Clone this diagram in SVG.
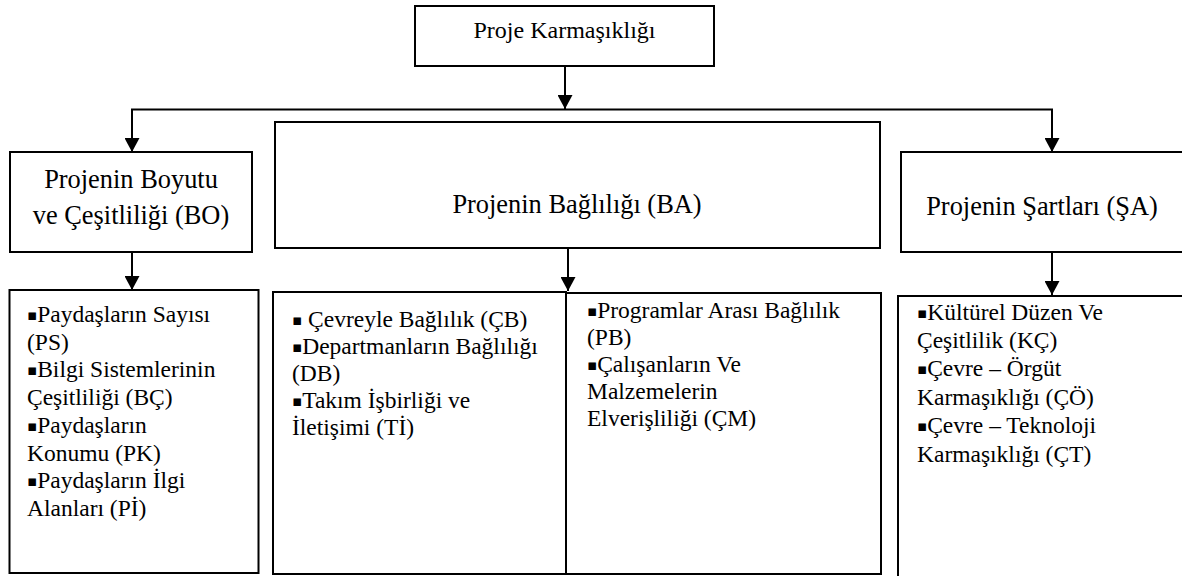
<svg xmlns="http://www.w3.org/2000/svg" width="1182" height="576" viewBox="0 0 1182 576">
<style>
.box{fill:#fff;stroke:#000;stroke-width:2}
.t{font-family:"Liberation Serif","Times New Roman",serif;fill:#000}
.title{font-size:26.4px;text-anchor:middle}
.top{font-size:24px;text-anchor:middle}
.body{font-size:23.5px}
.b{font-family:"DejaVu Sans",sans-serif;font-size:15px;baseline-shift:2.5px}
.conn{fill:none;stroke:#000;stroke-width:2}
</style>
<defs>
<marker id="ah" markerUnits="userSpaceOnUse" markerWidth="15" markerHeight="15" refX="14" refY="7.5" orient="auto">
<path d="M0,0 L14,7.5 L0,15 z" fill="#000"/>
</marker>
</defs>
<g id="connectors">
<path class="conn" d="M565,66 V109" marker-end="url(#ah)"/>
<path class="conn" d="M565,109.5 H132 V152" marker-end="url(#ah)"/>
<path class="conn" d="M565,109.5 H1052 V152" marker-end="url(#ah)"/>
<path class="conn" d="M132,252 V290" marker-end="url(#ah)"/>
<path class="conn" d="M568,248 V291" marker-end="url(#ah)"/>
<path class="conn" d="M1052,252 V295" marker-end="url(#ah)"/>
</g>
<g id="root">
<rect class="box" x="415" y="6" width="299" height="60"/>
<text class="t top" x="564.5" y="38">Proje Karmaşıklığı</text>
</g>
<g id="BO">
<rect class="box" x="10" y="152" width="242" height="100"/>
<text class="t title" x="131" y="188">Projenin Boyutu</text>
<text class="t title" x="131" y="224">ve Çeşitliliği (BO)</text>
</g>
<g id="BA">
<rect class="box" x="275" y="122" width="605" height="126"/>
<text class="t title" x="577" y="213">Projenin Bağlılığı (BA)</text>
</g>
<g id="SA">
<rect class="box" x="901" y="152" width="300" height="100"/>
<text class="t title" x="1042" y="215">Projenin Şartları (ŞA)</text>
</g>
<g id="BO-list">
<rect class="box" x="9.5" y="290" width="249" height="283"/>
<text class="t body">
<tspan x="27" y="322"><tspan class="b">▪</tspan>Paydaşların Sayısı</tspan>
<tspan x="27" y="350">(PS)</tspan>
<tspan x="27" y="377"><tspan class="b">▪</tspan>Bilgi Sistemlerinin</tspan>
<tspan x="27" y="405">Çeşitliliği (BÇ)</tspan>
<tspan x="27" y="433"><tspan class="b">▪</tspan>Paydaşların</tspan>
<tspan x="27" y="461">Konumu (PK)</tspan>
<tspan x="27" y="488"><tspan class="b">▪</tspan>Paydaşların İlgi</tspan>
<tspan x="27" y="516">Alanları (Pİ)</tspan>
</text>
</g>
<g id="BA-list-1">
<rect class="box" x="273" y="292" width="293" height="282"/>
<text class="t body">
<tspan x="292" y="327"><tspan class="b">▪</tspan> Çevreyle Bağlılık (ÇB)</tspan>
<tspan x="292" y="354"><tspan class="b">▪</tspan>Departmanların Bağlılığı</tspan>
<tspan x="292" y="381">(DB)</tspan>
<tspan x="292" y="408"><tspan class="b">▪</tspan>Takım İşbirliği ve</tspan>
<tspan x="292" y="435">İletişimi (Tİ)</tspan>
</text>
</g>
<g id="BA-list-2">
<rect class="box" x="566" y="293" width="315" height="281"/>
<text class="t body">
<tspan x="587" y="318"><tspan class="b">▪</tspan>Programlar Arası Bağlılık</tspan>
<tspan x="587" y="345">(PB)</tspan>
<tspan x="587" y="372"><tspan class="b">▪</tspan>Çalışanların Ve</tspan>
<tspan x="587" y="399">Malzemelerin</tspan>
<tspan x="587" y="426">Elverişliliği (ÇM)</tspan>
</text>
</g>
<g id="SA-list">
<rect class="box" x="898" y="296" width="300" height="300"/>
<text class="t body">
<tspan x="917" y="320"><tspan class="b">▪</tspan>Kültürel Düzen Ve</tspan>
<tspan x="917" y="348">Çeşitlilik (KÇ)</tspan>
<tspan x="917" y="376"><tspan class="b">▪</tspan>Çevre – Örgüt</tspan>
<tspan x="917" y="404.5">Karmaşıklığı (ÇÖ)</tspan>
<tspan x="917" y="433"><tspan class="b">▪</tspan>Çevre – Teknoloji</tspan>
<tspan x="917" y="461.5">Karmaşıklığı (ÇT)</tspan>
</text>
</g>
</svg>
